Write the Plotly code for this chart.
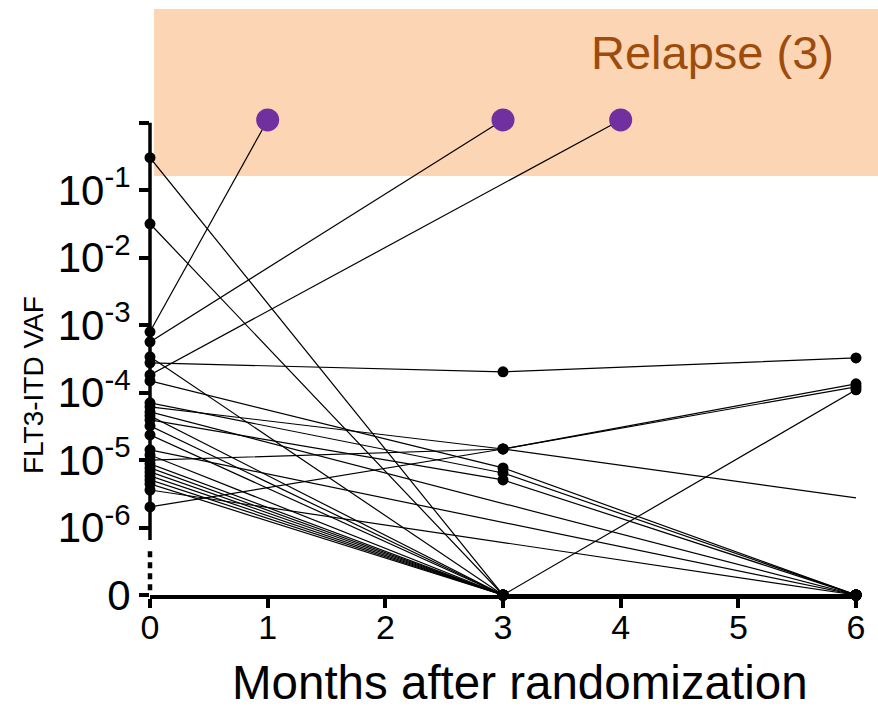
import plotly.graph_objects as go

# ---------------- data ----------------
months = [0, 3, 6]
# VAF at month 0, 3, 6 per patient (0 = undetectable, None = not measured)
vaf_m0 = [7.96e-4, 5.65e-4, 1.83e-4, 0.303, 0.0318, 3.39e-4, 2.76e-4, 1.49e-4,
          7.05e-5, 6.15e-5, 5.18e-5, 4.52e-5, 3.94e-5, 3.21e-5, 2.36e-5, 1.42e-5,
          1.19e-5, 1.0e-5, 8.8e-6, 7.66e-6, 6.67e-6, 5.82e-6, 5.08e-6, 4.43e-6,
          3.6e-6, 2.02e-6]
vaf_m3 = [None, None, None, 0, 0, 0, 2.03e-4, 7.66e-6,
          6.44e-6, 1.46e-5, None, 0, 5.08e-6, 0, 0, None,
          0, 1.46e-5, 0, 0, 0, 0, 0, 0,
          None, 1.46e-5]
vaf_m6 = [None, None, None, 0, 0, 1.10e-4, 3.27e-4, 0,
          0, 2.75e-6, 0, 0, 0, 0, 0, 0,
          0, 1.35e-4, 0, 0, 0, 0, 0, 0,
          0, 1.22e-4]
relapse_month = [1, 3, 4] + [None] * 23
relapse_level = [1.1]          # where relapse points are drawn
no_marker_m6 = [9]             # patient whose month-6 point has no symbol

y_tick_vals = [1, 1e-1, 1e-2, 1e-3, 1e-4, 1e-5, 1e-6, 1e-7]
y_tick_text = ["", "10<sup>-1</sup>", "10<sup>-2</sup>", "10<sup>-3</sup>",
               "10<sup>-4</sup>", "10<sup>-5</sup>", "10<sup>-6</sup>", "0"]
x_tick_vals = [0, 1, 2, 3, 4, 5, 6]

ZERO_POS = 1e-7  # position of the "0" tick on the log axis
FONT = "Arial, Liberation Sans, sans-serif"


def pos(v):
    return ZERO_POS if v == 0 else v


fig = go.Figure()
for i in range(len(vaf_m0)):
    xs, ys, sizes, colors = [months[0]], [pos(vaf_m0[i])], [11], ["black"]
    if relapse_month[i] is not None:
        xs.append(relapse_month[i]); ys.append(relapse_level[0])
        sizes.append(23); colors.append("#7030A0")
    else:
        if vaf_m3[i] is not None:
            xs.append(months[1]); ys.append(pos(vaf_m3[i]))
            sizes.append(11); colors.append("black")
        if vaf_m6[i] is not None:
            xs.append(months[2]); ys.append(pos(vaf_m6[i]))
            sizes.append(0 if i in no_marker_m6 else 11); colors.append("black")
    fig.add_trace(go.Scatter(
        x=xs, y=ys, mode="lines+markers",
        line=dict(color="black", width=1.2),
        marker=dict(size=sizes, color=colors, opacity=1, line=dict(width=0)),
        cliponaxis=False, showlegend=False, hoverinfo="skip"))

YMIN, YMAX = -7, 0.1


def paper_y(logv):
    return (logv - YMIN) / (YMAX - YMIN)


shapes = [
    # relapse band
    dict(type="rect", xref="paper", yref="paper", x0=0.0057, x1=1.032,
         y0=0.8747, y1=1.2234, fillcolor="#FCD5B5", line=dict(width=0),
         layer="below"),
    # solid part of y axis
    dict(type="line", xref="paper", yref="paper", x0=0, x1=0,
         y0=paper_y(-6.184), y1=paper_y(0), line=dict(color="black", width=3.5)),
    # dotted break to zero
    dict(type="line", xref="paper", yref="paper", x0=0, x1=0,
         y0=paper_y(-6.93), y1=paper_y(-6.33),
         line=dict(color="black", width=4.5, dash="6px,5px")),
]

annotations = [
    dict(text="Relapse (3)", xref="paper", yref="paper", x=0.797, y=1.1336,
         showarrow=False, font=dict(family=FONT, size=47, color="#9E4C0C"),
         xanchor="center", yanchor="middle"),
    dict(text="Months after randomization", xref="paper", yref="paper",
         x=0.524, y=-0.183, showarrow=False,
         font=dict(family=FONT, size=47.5, color="black"),
         xanchor="center", yanchor="middle"),
    dict(text="FLT3-ITD VAF", xref="paper", yref="paper", x=-0.166, y=0.438,
         showarrow=False, textangle=-90,
         font=dict(family=FONT, size=28, color="black"),
         xanchor="center", yanchor="middle"),
]

fig.update_layout(
    width=878, height=708,
    margin=dict(l=150, r=22, t=116, b=113),
    paper_bgcolor="white", plot_bgcolor="rgba(0,0,0,0)",
    shapes=shapes, annotations=annotations,
    font=dict(family=FONT, color="black"),
    xaxis=dict(range=[0, 6], tickvals=x_tick_vals, ticks="outside",
               ticklen=9, tickwidth=3.5, tickcolor="black",
               showline=True, linewidth=3.5, linecolor="black",
               showgrid=False, zeroline=False, ticklabelstandoff=-10,
               tickfont=dict(family=FONT, size=34, color="black")),
    yaxis=dict(type="log", range=[YMIN, YMAX], tickvals=y_tick_vals,
               ticktext=y_tick_text, ticks="outside", ticklen=10,
               tickwidth=3.5, tickcolor="black", showline=False,
               showgrid=False, zeroline=False,
               tickfont=dict(family=FONT, size=42, color="black")),
)

fig.write_html("out.html")
